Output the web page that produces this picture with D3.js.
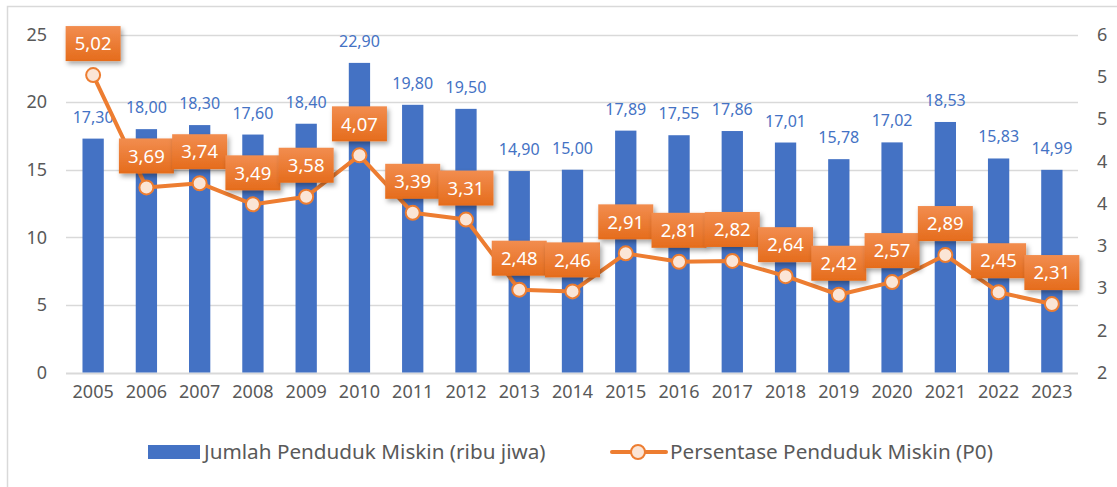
<!DOCTYPE html>
<html lang="id">
  <head>
    <meta charset="UTF-8" />
    <title>Penduduk Miskin 2005-2023</title>
    <script src="https://cdn.jsdelivr.net/npm/d3@7"></script>
    <style>
      html,
      body {
        margin: 0;
        padding: 0;
        background: #fff;
      }
      svg {
        display: block;
        font-family: 'Noto Sans', 'Open Sans', sans-serif;
      }
    </style>
  </head>
  <body>
    <script>
      const years = ['2005', '2006', '2007', '2008', '2009', '2010', '2011', '2012', '2013', '2014',
        '2015', '2016', '2017', '2018', '2019', '2020', '2021', '2022', '2023'];
      const jumlah = [17.3, 18.0, 18.3, 17.6, 18.4, 22.9, 19.8, 19.5, 14.9, 15.0,
        17.89, 17.55, 17.86, 17.01, 15.78, 17.02, 18.53, 15.83, 14.99];
      const persen = [5.02, 3.69, 3.74, 3.49, 3.58, 4.07, 3.39, 3.31, 2.48, 2.46,
        2.91, 2.81, 2.82, 2.64, 2.42, 2.57, 2.89, 2.45, 2.31];
      const leftTicks = [0, 5, 10, 15, 20, 25];
      const rightTicks = [1.5, 2, 2.5, 3, 3.5, 4, 4.5, 5, 5.5];
      const rightTickLabels = ['2', '2', '3', '3', '4', '4', '5', '5', '6'];
      const seriesNames = ['Jumlah Penduduk Miskin (ribu jiwa)', 'Persentase Penduduk Miskin (P0)'];

      const width = 1117,
        height = 487;
      const blue = '#4472C4',
        orange = '#ED7D31',
        grey = '#595959';

      const fmt = v => v.toFixed(2).replace('.', ',');

      const svg = d3.select('body').append('svg')
        .attr('width', width)
        .attr('height', height);

      const defs = svg.append('defs');
      const grad = defs.append('linearGradient')
        .attr('id', 'boxFill')
        .attr('x1', 0).attr('y1', 0).attr('x2', 0).attr('y2', 1);
      grad.append('stop').attr('offset', '0%').attr('stop-color', '#F28D4F');
      grad.append('stop').attr('offset', '100%').attr('stop-color', '#E56C1C');
      const shadow = defs.append('filter')
        .attr('id', 'shadow')
        .attr('x', '-20%').attr('y', '-20%').attr('width', '150%').attr('height', '160%');
      shadow.append('feDropShadow')
        .attr('dx', 2).attr('dy', 3).attr('stdDeviation', 2.5)
        .attr('flood-color', '#000').attr('flood-opacity', 0.35);

      // chart frame (left + top edges visible)
      svg.append('rect')
        .attr('x', 7.5).attr('y', 6.5)
        .attr('width', 1200).attr('height', 600)
        .attr('fill', 'none')
        .attr('stroke', '#D9D9D9')
        .attr('stroke-width', 1.5);

      const x = d3.scaleBand()
        .domain(years)
        .range([66.5, 1078.5])
        .paddingInner(0.6)
        .paddingOuter(0.3);

      const yLeft = d3.scaleLinear().domain([0, 25]).range([372.5, 34.5]);
      const yRight = d3.scaleLinear().domain([1.5, 5.5]).range([372.5, 34.5]);

      // gridlines
      svg.append('g')
        .selectAll('line')
        .data(leftTicks)
        .join('line')
        .attr('x1', 66)
        .attr('x2', 1078)
        .attr('y1', d => Math.round(yLeft(d)) + 0.5)
        .attr('y2', d => Math.round(yLeft(d)) + 0.5)
        .attr('stroke', '#D9D9D9')
        .attr('stroke-width', d => (d === 0 ? 2 : 1.5));

      const tickStyle = sel => sel
        .attr('fill', grey)
        .style('font-size', '18px')
        .style('font-family', "'Noto Sans', sans-serif");

      // left axis
      const axisLeft = svg.append('g')
        .attr('transform', 'translate(47,0)')
        .call(d3.axisLeft(yLeft).tickValues(leftTicks).tickSize(0).tickPadding(0));
      axisLeft.select('.domain').remove();
      axisLeft.selectAll('text').call(tickStyle);

      // right axis
      const axisRight = svg.append('g')
        .attr('transform', 'translate(1097,0)')
        .call(d3.axisRight(yRight).tickValues(rightTicks).tickSize(0).tickPadding(0)
          .tickFormat((d, i) => rightTickLabels[i]));
      axisRight.select('.domain').remove();
      axisRight.selectAll('text').call(tickStyle);

      // bottom axis
      const axisBottom = svg.append('g')
        .attr('transform', 'translate(0,381)')
        .call(d3.axisBottom(x).tickSize(0).tickPadding(0));
      axisBottom.select('.domain').remove();
      axisBottom.selectAll('text').call(tickStyle).attr('dy', '0.95em');

      // bars
      svg.append('g')
        .selectAll('rect')
        .data(jumlah)
        .join('rect')
        .attr('x', (d, i) => x(years[i]))
        .attr('y', d => yLeft(d))
        .attr('width', x.bandwidth())
        .attr('height', d => yLeft(0) - yLeft(d))
        .attr('fill', blue);

      // bar labels
      svg.append('g')
        .selectAll('text')
        .data(jumlah)
        .join('text')
        .attr('x', (d, i) => x(years[i]) + x.bandwidth() / 2)
        .attr('y', d => yLeft(d) - 16)
        .attr('text-anchor', 'middle')
        .attr('fill', blue)
        .style('font-size', '16px')
        .text(d => fmt(d));

      // line
      const cx = i => x(years[i]) + x.bandwidth() / 2;
      const line = d3.line()
        .x((d, i) => cx(i))
        .y(d => yRight(d));

      svg.append('path')
        .datum(persen)
        .attr('d', line)
        .attr('fill', 'none')
        .attr('stroke', orange)
        .attr('stroke-width', 4)
        .attr('stroke-linejoin', 'round');

      svg.append('g')
        .selectAll('circle')
        .data(persen)
        .join('circle')
        .attr('cx', (d, i) => cx(i))
        .attr('cy', d => yRight(d))
        .attr('r', 7)
        .attr('fill', '#FBE5D6')
        .attr('stroke', orange)
        .attr('stroke-width', 2);

      // line data labels (orange boxes)
      const boxW = 55,
        boxH = 35;
      const labels = svg.append('g')
        .selectAll('g')
        .data(persen)
        .join('g')
        .attr('transform', (d, i) => `translate(${cx(i)},${yRight(d) - 14 - boxH / 2})`);

      labels.append('rect')
        .attr('x', -boxW / 2)
        .attr('y', -boxH / 2)
        .attr('width', boxW)
        .attr('height', boxH)
        .attr('fill', 'url(#boxFill)')
        .attr('filter', 'url(#shadow)');

      labels.append('text')
        .attr('text-anchor', 'middle')
        .attr('dy', '0.36em')
        .attr('fill', '#fff')
        .style('font-size', '18.5px')
        .text(d => fmt(d));

      // legend
      const legend = svg.append('g');
      legend.append('rect')
        .attr('x', 148).attr('y', 445)
        .attr('width', 52).attr('height', 14)
        .attr('fill', blue);
      legend.append('text')
        .attr('x', 204).attr('y', 452)
        .attr('dy', '0.36em')
        .attr('fill', grey)
        .style('font-size', '20.7px')
        .text(seriesNames[0]);

      legend.append('line')
        .attr('x1', 612).attr('x2', 666)
        .attr('y1', 452).attr('y2', 452)
        .attr('stroke', orange)
        .attr('stroke-width', 4)
        .attr('stroke-linecap', 'round');
      legend.append('circle')
        .attr('cx', 638).attr('cy', 452)
        .attr('r', 7)
        .attr('fill', '#FBE5D6')
        .attr('stroke', orange)
        .attr('stroke-width', 2);
      legend.append('text')
        .attr('x', 670).attr('y', 452)
        .attr('dy', '0.36em')
        .attr('fill', grey)
        .style('font-size', '20.7px')
        .text(seriesNames[1]);
    </script>
  </body>
</html>
